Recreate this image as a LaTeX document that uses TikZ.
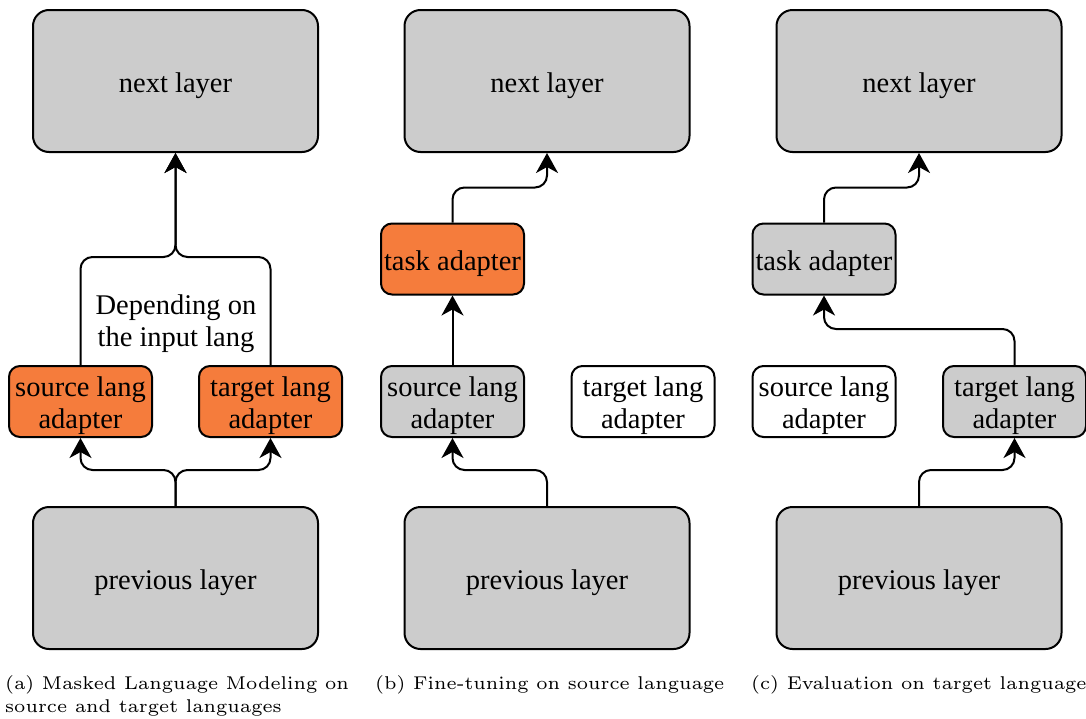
\documentclass[tikz,border=0pt]{standalone}
\usepackage{fontspec}
\newfontfamily\boxfont{Liberation Serif}
\font\capfnt=cmr6 at 18.5pt
\newcommand\capstyle{\capfnt\baselineskip=23pt\relax}
\newcommand\lowered[1]{\raisebox{-5pt}[\height][\depth]{\begin{tabular}{@{}c@{}}#1\end{tabular}}}
\usetikzlibrary{arrows.meta}
\definecolor{orangefill}{HTML}{F57C3C}
\definecolor{greyfill}{HTML}{CCCCCC}
\begin{document}
\begin{tikzpicture}[x=1pt,y=-1pt,
  box/.style={draw, line width=2pt, inner sep=0pt,
    font=\boxfont\fontsize{28.5}{32}\selectfont},
  layer/.style={box, fill=greyfill, rounded corners=16pt, minimum width=285pt, minimum height=142pt},
  adapter/.style={box, rounded corners=11pt, minimum width=143pt, minimum height=71pt},
  orangebox/.style={adapter, fill=orangefill},
  greybox/.style={adapter, fill=greyfill},
  whitebox/.style={adapter, fill=white},
  conn/.style={line width=2pt, rounded corners=12pt, -{Stealth[length=20pt,width=22pt,inset=6pt]}},
  caption/.style={anchor=north west, inner sep=0pt, align=left, font=\capstyle}
]
\useasboundingbox (0,0) rectangle (1086,718);

% ---------- panel (a)
\node[layer] (nextA) at (175.5,81) {\lowered{next layer}};
\node[layer] (prevA) at (175.5,578) {\lowered{previous layer}};
\node[orangebox] (srcA) at (80.5,401.5) {\lowered{source lang\\adapter}};
\node[orangebox] (tgtA) at (270.5,401.5) {\lowered{target lang\\adapter}};
\node[box, draw=none] (depA) at (176,319) {\lowered{Depending on\\the input lang}};
\draw[conn] (prevA.north) -- ++(0,-36) -| (srcA.south);
\draw[conn] (prevA.north) -- ++(0,-36) -| (tgtA.south);
\draw[conn] (srcA.north) -- ++(0,-108) -| (nextA.south);
\draw[conn] (tgtA.north) -- ++(0,-108) -| (nextA.south);

% ---------- panel (b)
\node[layer] (nextB) at (547,81) {\lowered{next layer}};
\node[layer] (prevB) at (547,578) {\lowered{previous layer}};
\node[orangebox] (taskB) at (452.5,259) {\lowered{task adapter}};
\node[greybox] (srcB) at (452.5,401.5) {\lowered{source lang\\adapter}};
\node[whitebox] (tgtB) at (643,401.5) {\lowered{target lang\\adapter}};
\draw[conn] (prevB.north) -- ++(0,-36) -| (srcB.south);
\draw[conn] (srcB.north) -- (taskB.south);
\draw[conn] (taskB.north) -- ++(0,-35) -| (nextB.south);

% ---------- panel (c)
\node[layer] (nextC) at (919,81) {\lowered{next layer}};
\node[layer] (prevC) at (919,578) {\lowered{previous layer}};
\node[greybox] (taskC) at (824,259) {\lowered{task adapter}};
\node[whitebox] (srcC) at (824,401.5) {\lowered{source lang\\adapter}};
\node[greybox] (tgtC) at (1014.5,401.5) {\lowered{target lang\\adapter}};
\draw[conn] (prevC.north) -- ++(0,-36) -| (tgtC.south);
\draw[conn] (tgtC.north) -- ++(0,-36) -| (taskC.south);
\draw[conn] (taskC.north) -- ++(0,-35) -| (nextC.south);

% ---------- captions
\node[caption] (capA) at (5,675) {(a) Masked Language Modeling on\\source and target languages};
\node[caption] (capB) at (375,675) {(b) Fine-tuning on source language};
\node[caption] (capC) at (751,675) {(c) Evaluation on target language};
\end{tikzpicture}
\end{document}
